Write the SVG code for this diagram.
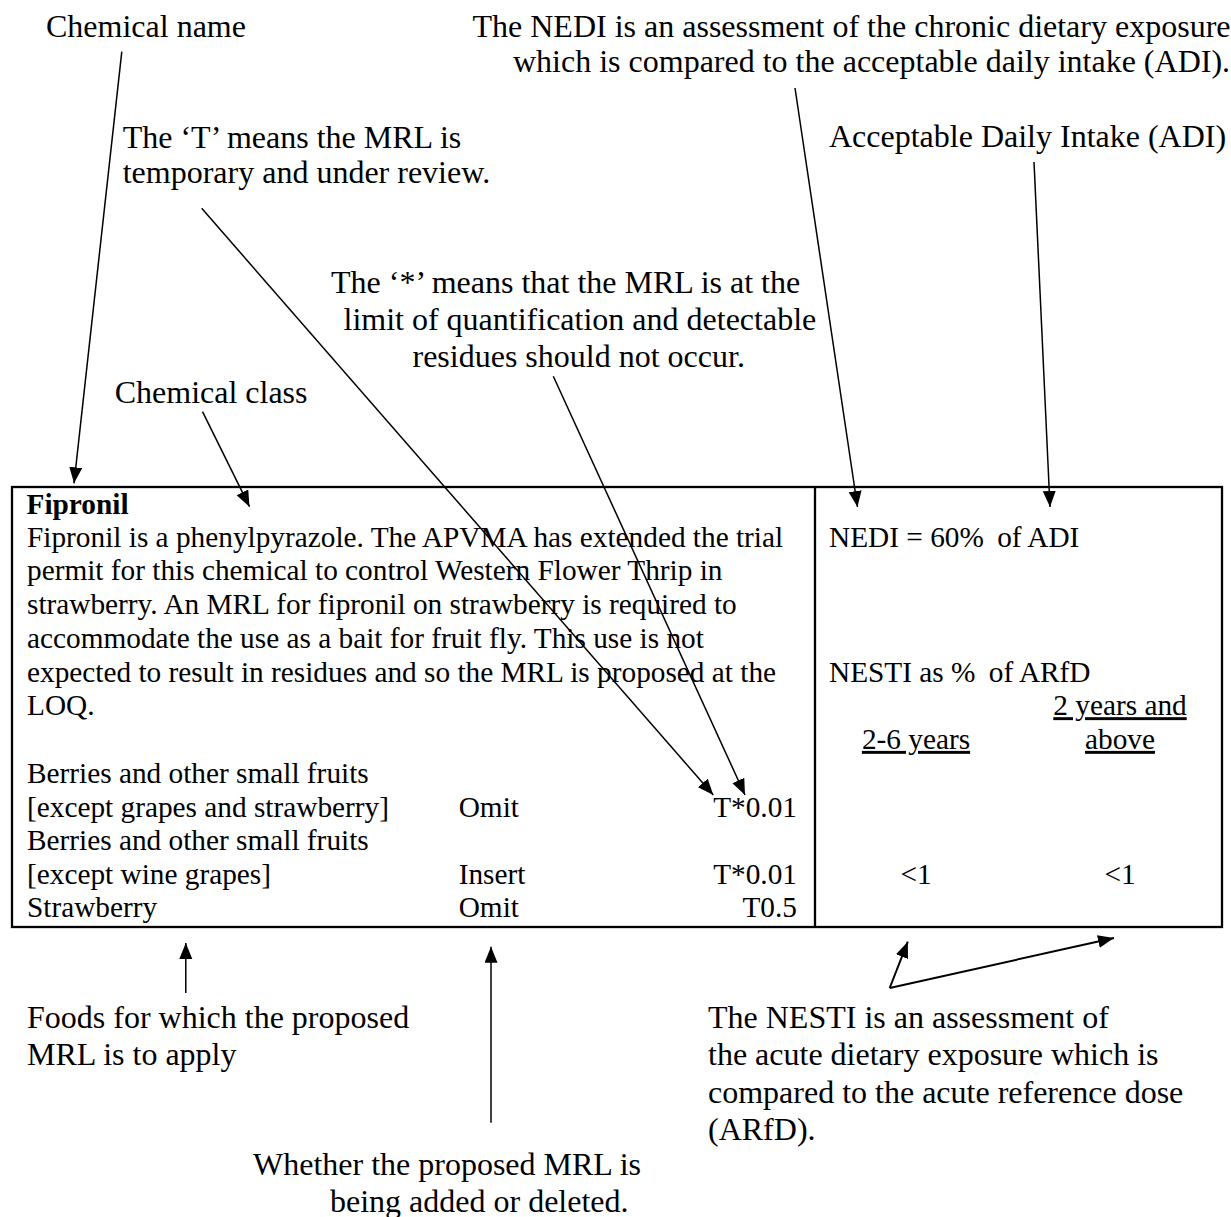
<svg xmlns="http://www.w3.org/2000/svg" width="1231" height="1217" viewBox="0 0 1231 1217">
<style>
text{font-family:"Liberation Serif","Times New Roman",serif;fill:#000}
.a{font-size:32px}
.t{font-size:29.3px}
.b{font-weight:bold}
.u{text-decoration:underline}
.m{text-anchor:middle}
.e{text-anchor:end}
.c{stroke:#000;stroke-width:1.5;fill:none;marker-end:url(#ah)}
.k{stroke:#000;stroke-width:2.3;fill:none}
</style>
<defs>
<marker id="ah" markerUnits="userSpaceOnUse" markerWidth="17" markerHeight="14" refX="16" refY="6.5" orient="auto">
<path d="M0,0 L16,6.5 L0,13 z" fill="#000"/>
</marker>
</defs>
<rect width="1231" height="1217" fill="#fff"/>

<g id="label-chemical-name"><text class="a" x="46" y="36.5">Chemical name</text></g>
<g id="label-nedi">
<text class="a" x="472.5" y="37">The NEDI is an assessment of the chronic dietary exposure</text>
<text class="a" x="513" y="72">which is compared to the acceptable daily intake (ADI).</text>
</g>
<g id="label-t">
<text class="a" x="122.7" y="148">The ‘T’ means the MRL is</text>
<text class="a" x="122.7" y="183">temporary and under review.</text>
</g>
<g id="label-adi"><text class="a" x="829" y="147">Acceptable Daily Intake (ADI)</text></g>
<g id="label-star">
<text class="a" x="331" y="293">The ‘*’ means that the MRL is at the</text>
<text class="a" x="343.5" y="330">limit of quantification and detectable</text>
<text class="a" x="412.5" y="367">residues should not occur.</text>
</g>
<g id="label-chemical-class"><text class="a" x="114.7" y="403">Chemical class</text></g>

<g id="table">
<rect class="k" x="12" y="487" width="1210" height="440"/>
<line class="k" x1="815" y1="487" x2="815" y2="927"/>
<text class="t b" x="26.5" y="514">Fipronil</text>
<text class="t" x="27" y="546.7">Fipronil is a phenylpyrazole. The APVMA has extended the trial</text>
<text class="t" x="27" y="580.4">permit for this chemical to control Western Flower Thrip in</text>
<text class="t" x="27" y="614.1">strawberry. An MRL for fipronil on strawberry is required to</text>
<text class="t" x="27" y="647.8">accommodate the use as a bait for fruit fly. This use is not</text>
<text class="t" x="27" y="681.5">expected to result in residues and so the MRL is proposed at the</text>
<text class="t" x="27" y="715.2">LOQ.</text>
<text class="t" x="27" y="782.6">Berries and other small fruits</text>
<text class="t" x="27" y="816.5">[except grapes and strawberry]</text>
<text class="t" x="458.7" y="816.5">Omit</text>
<text class="t e" x="797" y="816.5">T*0.01</text>
<text class="t" x="27" y="850">Berries and other small fruits</text>
<text class="t" x="27" y="883.7">[except wine grapes]</text>
<text class="t" x="458.7" y="883.7">Insert</text>
<text class="t e" x="797" y="883.7">T*0.01</text>
<text class="t" x="27" y="917.4">Strawberry</text>
<text class="t" x="458.7" y="917.4">Omit</text>
<text class="t e" x="797" y="917.4">T0.5</text>
<text class="t" x="829" y="546.7">NEDI = 60%<tspan dx="6"> of ADI</tspan></text>
<text class="t" x="829" y="681.5">NESTI as %<tspan dx="6"> of ARfD</tspan></text>
<text class="t m u" x="1120" y="715.2">2 years and</text>
<text class="t m u" x="916" y="748.9">2-6 years</text>
<text class="t m u" x="1120" y="748.9">above</text>
<text class="t m" x="916" y="883.7">&lt;1</text>
<text class="t m" x="1120" y="883.7">&lt;1</text>
</g>

<g id="label-foods">
<text class="a" x="27" y="1028">Foods for which the proposed</text>
<text class="a" x="27" y="1065">MRL is to apply</text>
</g>
<g id="label-nesti">
<text class="a" x="708" y="1028">The NESTI is an assessment of</text>
<text class="a" x="708" y="1065">the acute dietary exposure which is</text>
<text class="a" x="708" y="1103">compared to the acute reference dose</text>
<text class="a" x="708" y="1140">(ARfD).</text>
</g>
<g id="label-whether">
<text class="a" x="253" y="1175">Whether the proposed MRL is</text>
<text class="a" x="330" y="1212">being added or deleted.</text>
</g>

<g id="connectors">
<line class="c" x1="121.8" y1="51.7" x2="74" y2="483.3"/>
<line class="c" x1="202.5" y1="411.7" x2="249.5" y2="506.7"/>
<line class="c" x1="201.7" y1="208.3" x2="713.3" y2="795"/>
<line class="c" x1="553.3" y1="376.3" x2="745" y2="795"/>
<line class="c" x1="795" y1="88" x2="857.5" y2="507"/>
<line class="c" x1="1034" y1="162" x2="1050" y2="507"/>
<line class="c" x1="185.8" y1="993" x2="185.8" y2="943"/>
<line class="c" x1="491" y1="1122.7" x2="491" y2="946.7"/>
<line class="c" style="stroke-width:2" x1="889.7" y1="988" x2="907.8" y2="941.7"/>
<line class="c" style="stroke-width:2" x1="889.7" y1="988" x2="1114" y2="938"/>
</g>
</svg>
